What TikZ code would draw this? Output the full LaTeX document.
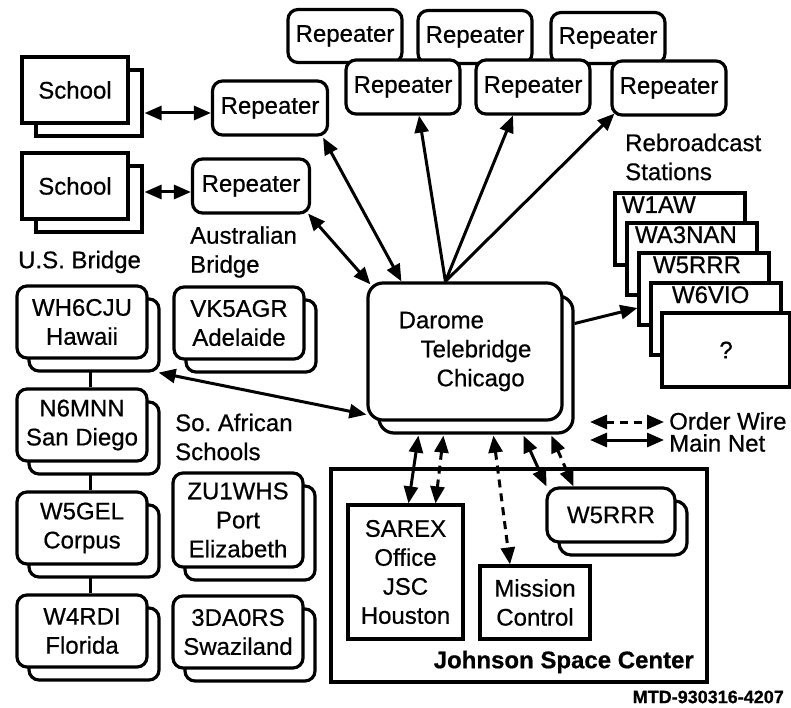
\documentclass[tikz,border=0pt]{standalone}
\usepackage{fontspec}
\setmainfont{Liberation Sans}[FakeBold=0.6]
\frenchspacing
\usetikzlibrary{arrows.meta,calc,shadows}
\begin{document}
\begin{tikzpicture}[x=1pt,y=-1pt,
  txt/.style={font=\fontsize{24}{29}\selectfont, inner sep=0pt, align=left},
  box/.style={draw, line width=3.2pt, fill=white, inner sep=0pt, align=center,
    font=\fontsize{24}{29}\selectfont},
  rbox/.style={box, rounded corners=10pt},
  stacked/.style={copy shadow={shadow xshift=12pt, shadow yshift=-13pt}},
  schoolbox/.style={box, minimum width=106pt, minimum height=66pt,
    copy shadow={shadow xshift=14pt, shadow yshift=-13pt}},
  repeater/.style={rbox, minimum width=114pt, minimum height=54pt},
  ham/.style={rbox, stacked, minimum width=130pt, minimum height=72pt},
  station/.style={box, minimum width=130pt, minimum height=72pt, align=left,
    text height=17pt, text depth=49pt, inner ysep=3pt},
  conn/.style={line width=3pt},
  arrboth/.style={conn, {Triangle[length=17pt,width=14pt]}-{Triangle[length=17pt,width=14pt]}},
  arrone/.style={conn, -{Triangle[length=17pt,width=14pt]}},
  wire/.style={dash pattern=on 8pt off 6pt},
]
\useasboundingbox (0,0) rectangle (791,708);

% schools and their repeaters
\node[schoolbox] (sch1) at (75,90) {School};
\node[schoolbox] (sch2) at (75,186) {School};
\node[repeater, minimum width=115pt] (repA) at (270,108) {Repeater};
\node[repeater, minimum width=117pt] (repB) at (251,186) {Repeater};

% repeaters at the top, back row then front row
\node[repeater, minimum height=53pt] (b1) at (345,36) {Repeater};
\node[repeater, minimum height=53pt] (b2) at (475,37) {Repeater};
\node[repeater, minimum height=51pt] (b3) at (608,38) {Repeater};
\node[repeater] (f1) at (403,87) {Repeater};
\node[repeater] (f2) at (533,87) {Repeater};
\node[repeater] (f3) at (669,88) {Repeater};

% labels
\node[txt, anchor=west] (lbaus) at (190,252) {Australian\\Bridge};
\node[txt, anchor=west] (lbus) at (18,262) {U.S. Bridge};
\node[txt, anchor=west] (lbreb) at (625,157) {Rebroadcast\\Stations};
\node[txt, anchor=west] (lbsa) at (175,437) {So. African\\Schools};

% rebroadcast stations
\node[station, inner xsep=7pt, text width=116pt] (s1) at (680,229) {W1AW};
\node[station, inner xsep=8pt, text width=114pt] (s2) at (692,259) {WA3NAN};
\node[station, inner xsep=14pt, text width=102pt] (s3) at (704,289) {W5RRR};
\node[station, inner xsep=21pt, text width=88pt] (s4) at (716,319) {W6VIO};
\node[box, minimum width=128pt, minimum height=74pt] (s5) at (726,350) {?};

% the telebridge
\node[box, rounded corners=15pt, align=left, minimum width=194pt, minimum height=137pt,
  copy shadow={shadow xshift=11pt, shadow yshift=-13pt}] (dar) at (465,351.5)
  {Darome\\\hspace*{22pt}Telebridge\\\hspace*{38pt}Chicago};

% U.S. bridge chain
\node[ham] (wh) at (82,322) {WH6CJU\\Hawaii};
\node[ham] (n6) at (82,425) {N6MNN\\San Diego};
\node[ham] (w5g) at (82,528) {W5GEL\\Corpus};
\node[ham] (w4) at (82,631) {W4RDI\\Florida};

% Australian and South African stations
\node[ham] (vk) at (239,323) {VK5AGR\\Adelaide};
\node[ham, minimum height=94pt] (zu) at (238,520) {ZU1WHS\\Port\\Elizabeth};
\node[ham] (da) at (238,632) {3DA0RS\\Swaziland};

% Johnson Space Center
\node[draw, line width=3.2pt, minimum width=376pt, minimum height=213pt, inner sep=0pt]
  (jsc) at (519,575.5) {};
\node[txt, anchor=east, font=\fontsize{24}{29}\selectfont\bfseries] (jsclb) at (694,662)
  {Johnson Space Center};
\node[box, minimum width=115pt, minimum height=134pt] (sarex) at (405.5,572)
  {SAREX\\Office\\JSC\\Houston};
\node[box, minimum width=110pt, minimum height=73pt] (mc) at (535,602.5) {Mission\\Control};
\node[box, rounded corners=12pt, stacked, minimum width=128pt, minimum height=54pt]
  (w5) at (611,515) {W5RRR};

% legend
\node[txt, anchor=west] (ow) at (669,421) {Order Wire};
\node[txt, anchor=west] (mn) at (669,443) {Main Net};
\coordinate (owA) at (590,422);
\coordinate (mnA) at (590,440);
\draw[arrboth, wire] (owA) -- ($(ow.west)+(-5,1)$);
\draw[arrboth] (mnA) -- ($(mn.west)+(-5,-3)$);

% document number
\node[anchor=east, inner sep=0pt, font=\fontsize{18}{21}\selectfont\bfseries] (mtd)
  at (784,697) {MTD-930316-4207};

% school links
\draw[arrboth] ($(sch1.east)+(15,23)$) -- ($(repA.west)+(0,5)$);
\draw[arrboth] ($(sch2.east)+(15,6)$) -- ($(repB.west)+(0,6)$);

% links into the telebridge
\draw[arrboth] ($(repA.south east)+(-6,1)$) -- ($(dar.north west)+(35,0)$);
\draw[arrboth] ($(repB.south east)+(-3,-1)$) -- ($(dar.north west)+(4,3)$);
\draw[arrone] ($(dar.north west)+(79,0)$) -- ($(f1.south)+(16,0)$);
\draw[arrone] ($(dar.north west)+(79,0)$) -- ($(f2.south)+(-20,0)$);
\draw[arrone] ($(dar.north west)+(79,0)$) -- ($(f3.south west)+(4,-3)$);
\draw[arrone] ($(dar.east)+(11,-28)$) -- ($(s3.west)+(0,19)$);
\draw[arrboth] ($(wh.south east)+(10,13)$) -- ($(dar.south west)+(0,-7)$);

% U.S. bridge chain links
\draw[conn] ($(wh.south)+(8,12)$) -- ($(n6.north)+(8,0)$);
\draw[conn] ($(n6.south)+(8,12)$) -- ($(w5g.north)+(8,0)$);
\draw[conn] ($(w5g.south)+(8,12)$) -- ($(w4.north)+(8,0)$);

% links down to Johnson Space Center
\draw[arrboth] ($(dar.south west)+(52,14)$) -- ($(sarex.north)+(3,0)$);
\draw[arrboth, wire] ($(dar.south west)+(77,14)$) -- ($(sarex.north)+(30,0)$);
\draw[arrboth, wire] ($(dar.south west)+(127,14)$) -- ($(mc.north)+(-25,0)$);
\draw[arrboth] ($(dar.south west)+(157,14)$) -- ($(w5.north west)+(1,0)$);
\draw[arrboth, wire] ($(dar.south west)+(185,14)$) -- ($(w5.north west)+(28,0)$);
\end{tikzpicture}
\end{document}
